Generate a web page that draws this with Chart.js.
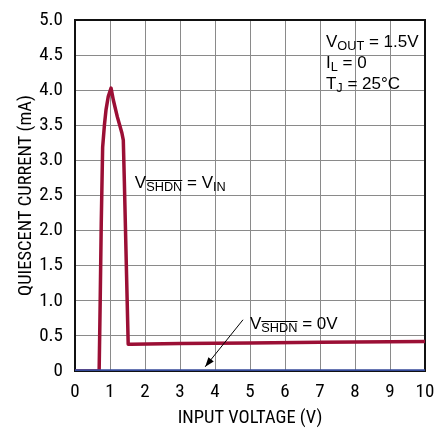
<!DOCTYPE html>
<html><head><meta charset="utf-8">
<script src="https://cdn.jsdelivr.net/npm/chart.js@4.4.1/dist/chart.umd.min.js"></script>
<style>html,body{margin:0;padding:0;background:#fff}#wrap{width:435px;height:429px}</style>
</head><body><div id="wrap"><canvas id="c" width="435" height="429"></canvas></div>
<script>
const xTicks = [0,1,2,3,4,5,6,7,8,9,10];
const yTicks = [0,0.5,1.0,1.5,2.0,2.5,3.0,3.5,4.0,4.5,5.0];
const onX = [0, 0.69, 0.72, 0.75, 0.79, 0.84, 0.886, 0.95, 1.03, 1.095, 1.21, 1.34, 1.38, 1.41, 1.52, 1.6, 3, 5, 7, 10];
const onY = [0, 0, 1.0, 2.1, 3.19, 3.5, 3.72, 3.91, 4.03, 3.86, 3.62, 3.39, 3.29, 2.7, 0.38, 0.38, 0.39, 0.40, 0.41, 0.42];
const offX = [0, 10];
const offY = [0.01, 0.01];
const FONT = "'Liberation Sans Narrow', 'Roboto Condensed', 'Arial Narrow', 'Liberation Sans', sans-serif";
const AFONT = "'Liberation Sans', Arial, sans-serif";

const pts = (xs, ys) => xs.map((x,i)=>({x:x, y:ys[i]}));

function richText(ctx, x, y, parts, size) {
  let cx = x;
  parts.forEach(p => {
    const fs = p.sub ? size*0.75 : size;
    ctx.font = fs + "px " + AFONT;
    const dy = p.sub ? 3 : 0;
    ctx.fillText(p.t, cx, y + dy);
    const w = ctx.measureText(p.t).width;
    if (p.over) {
      ctx.beginPath();
      ctx.lineWidth = 1;
      const oy = Math.round(y + dy - fs*0.73 - 2) + 0.5;
      ctx.moveTo(cx, oy); ctx.lineTo(cx + w, oy); ctx.stroke();
    }
    cx += w;
  });
}

const annot = {
  id: 'annot',
  beforeDatasetsDraw(chart) {
    const {ctx, chartArea: a} = chart;
    ctx.save();
    ctx.strokeStyle = '#111'; ctx.lineWidth = 2;
    ctx.strokeRect(a.left, a.top, a.right - a.left, a.bottom - a.top);
    ctx.restore();
  },
  afterDatasetsDraw(chart) {
    const {ctx, scales: {x, y}} = chart;
    ctx.save();
    ctx.fillStyle = '#000'; ctx.strokeStyle = '#000';
    ctx.textBaseline = 'alphabetic'; ctx.textAlign = 'left';
    const S = 17;
    richText(ctx, x.getPixelForValue(7.17), y.getPixelForValue(4.615), [{t:'V'},{t:'OUT',sub:true},{t:' = 1.5V'}], S);
    richText(ctx, x.getPixelForValue(7.17), y.getPixelForValue(4.316), [{t:'I'},{t:'L',sub:true},{t:' = 0'}], S);
    richText(ctx, x.getPixelForValue(7.17), y.getPixelForValue(4.02), [{t:'T'},{t:'J',sub:true},{t:' = 25°C'}], S);
    richText(ctx, x.getPixelForValue(1.71), y.getPixelForValue(2.607), [{t:'V'},{t:'SHDN',sub:true,over:true},{t:' = V'},{t:'IN',sub:true}], S);
    richText(ctx, x.getPixelForValue(5.0), y.getPixelForValue(0.6), [{t:'V'},{t:'SHDN',sub:true,over:true},{t:' = 0V'}], S);
    // arrow
    const x1 = x.getPixelForValue(4.8), y1 = y.getPixelForValue(0.73);
    const x2 = x.getPixelForValue(3.72), y2 = y.getPixelForValue(0.06);
    ctx.lineWidth = 1;
    ctx.beginPath(); ctx.moveTo(x1, y1); ctx.lineTo(x2, y2); ctx.stroke();
    const ang = Math.atan2(y2 - y1, x2 - x1), L = 10, W = 0.35;
    ctx.beginPath();
    ctx.moveTo(x2, y2);
    ctx.lineTo(x2 - L*Math.cos(ang - W), y2 - L*Math.sin(ang - W));
    ctx.lineTo(x2 - L*Math.cos(ang + W), y2 - L*Math.sin(ang + W));
    ctx.closePath(); ctx.fill();
    ctx.restore();
  }
};

new Chart(document.getElementById('c'), {
  type: 'scatter',
  data: {
    datasets: [
      {label: 'VSHDN = 0V', data: pts(offX, offY), showLine: true, borderColor: '#34499a', borderWidth: 2, pointRadius: 0},
      {label: 'VSHDN = VIN', data: pts(onX, onY), showLine: true, borderColor: '#9b0f35', borderWidth: 3.5, pointRadius: 0, borderJoinStyle: 'round'}
    ]
  },
  options: {
    responsive: false, animation: false,
    layout: {padding: {left: 0, right: 0, top: 20, bottom: 0}},
    plugins: {legend: {display: false}, tooltip: {enabled: false}},
    scales: {
      x: {
        type: 'linear', min: 0, max: 10,
        afterBuildTicks: s => { s.ticks = xTicks.map(v => ({value: v})); },
        afterFit: s => { s.height = 58; s.paddingRight = 10; s.paddingLeft = 0; s.paddingTop = 0; s.paddingBottom = 0; },
        grid: {color: '#8a8a8a', lineWidth: 1, drawTicks: false},
        border: {display: false},
        ticks: {color: '#000', padding: 10, font: {family: FONT, size: 19}, callback: v => String(v)},
        title: {display: true, text: 'INPUT VOLTAGE (V)', color: '#000', font: {family: FONT, size: 18.5}, padding: {top: 11, bottom: 0}}
      },
      y: {
        type: 'linear', min: 0, max: 5,
        afterBuildTicks: s => { s.ticks = yTicks.map(v => ({value: v})); },
        afterFit: s => { s.width = 75; s.paddingTop = 0; s.paddingBottom = 0; s.paddingLeft = 0; s.paddingRight = 0; },
        grid: {color: '#8a8a8a', lineWidth: 1, drawTicks: false},
        border: {display: false},
        ticks: {color: '#000', padding: 12, font: {family: FONT, size: 19}, callback: v => v === 0 ? '0' : v.toFixed(1)},
        title: {display: true, text: 'QUIESCENT CURRENT (mA)', color: '#000', font: {family: FONT, size: 18.5}, padding: {top: 15, bottom: 0}}
      }
    }
  },
  plugins: [annot]
});
</script>
</body></html>
